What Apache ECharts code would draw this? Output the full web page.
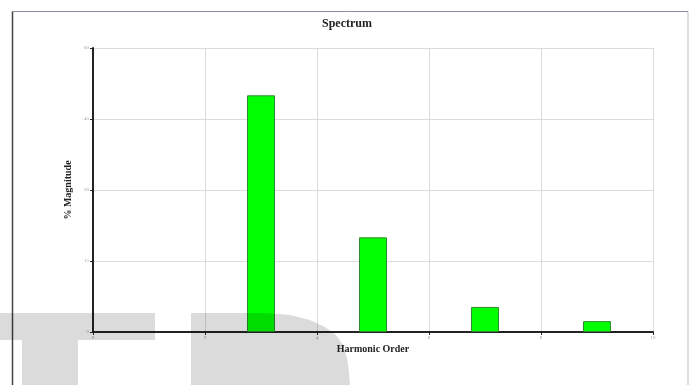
<!DOCTYPE html>
<html>
<head>
<meta charset="utf-8">
<style>
  html, body { margin: 0; padding: 0; background: #ffffff; }
  #chart { width: 694px; height: 385px; }
</style>
<script src="https://cdn.jsdelivr.net/npm/echarts@6/dist/echarts.min.js"></script>
</head>
<body>
<div id="chart"></div>
<script>
// Harmonic spectrum: odd harmonics and their magnitude in percent
const harmonicOrders = [3, 5, 7, 9];
const magnitudes = [50, 20, 5.3, 2.3];
const xTicks = [0, 2, 4, 6, 8, 10];
const yTicks = [0, 15, 30, 45, 60];

const serif = '"Liberation Serif", "DejaVu Serif", serif';
const chart = echarts.init(document.getElementById('chart'), null, { renderer: 'canvas' });

// outline of the grey lettering's rounded bowl
const bowl = [[191, 313], [265, 313], [290, 315], [310, 320], [325, 327], [336, 335], [343, 345],
              [347, 358], [349, 372], [350, 385], [191, 385]];

chart.setOption({
  animation: false,
  backgroundColor: '#ffffff',
  title: {
    text: 'Spectrum',
    left: 'center',
    top: 13,
    textStyle: { fontFamily: serif, fontWeight: 'bold', fontSize: 12, color: '#222' }
  },
  grid: { left: 93, right: 41, top: 48, bottom: 53 },
  xAxis: {
    type: 'value',
    min: xTicks[0],
    max: xTicks[xTicks.length - 1],
    interval: xTicks[1] - xTicks[0],
    name: 'Harmonic Order',
    nameLocation: 'middle',
    nameGap: 12,
    nameTextStyle: { fontFamily: serif, fontWeight: 'bold', fontSize: 10, color: '#222' },
    axisLine: { show: true, onZero: false, lineStyle: { color: '#222', width: 2 } },
    axisTick: { show: true, length: 3, lineStyle: { color: '#222' } },
    axisLabel: { fontSize: 5, color: '#999', margin: 3, fontFamily: serif },
    splitLine: { show: true, lineStyle: { color: '#dcdcdc', width: 1 } }
  },
  yAxis: {
    type: 'value',
    min: yTicks[0],
    max: yTicks[yTicks.length - 1],
    interval: yTicks[1] - yTicks[0],
    name: '% Magnitude',
    nameLocation: 'middle',
    nameGap: 14,
    nameRotate: 90,
    nameTextStyle: { fontFamily: serif, fontWeight: 'bold', fontSize: 10, color: '#222' },
    axisLine: { show: true, lineStyle: { color: '#222', width: 2 } },
    axisTick: { show: true, length: 3, lineStyle: { color: '#222' } },
    axisLabel: { fontSize: 5, color: '#999', margin: 4, fontFamily: serif },
    splitLine: { show: true, lineStyle: { color: '#dcdcdc', width: 1 } }
  },
  series: [{
    type: 'bar',
    data: harmonicOrders.map((h, i) => [h, magnitudes[i]]),
    barWidth: 28,
    itemStyle: { color: '#00ff00', borderColor: '#2e8b2e', borderWidth: 1 },
    z: 2
  }],
  graphic: [
    // page frame around the chart
    { type: 'line', shape: { x1: 12.5, y1: 11.5, x2: 688, y2: 11.5 }, style: { stroke: '#8c8c9c', lineWidth: 1 }, z: 10 },
    { type: 'line', shape: { x1: 12.5, y1: 11.5, x2: 12.5, y2: 385 }, style: { stroke: '#444', lineWidth: 1.5 }, z: 10 },
    { type: 'line', shape: { x1: 688, y1: 11.5, x2: 688, y2: 385 }, style: { stroke: '#bbb', lineWidth: 1 }, z: 10 },
    // translucent grey lettering along the bottom edge
    { type: 'rect', shape: { x: 0, y: 313, width: 155, height: 27 }, style: { fill: 'rgba(0,0,0,0.14)' }, z: 20 },
    { type: 'rect', shape: { x: 22, y: 340, width: 56, height: 45 }, style: { fill: 'rgba(0,0,0,0.14)' }, z: 20 },
    { type: 'polygon', shape: { points: bowl }, style: { fill: 'rgba(0,0,0,0.14)' }, z: 20 }
  ]
});
</script>
</body>
</html>
